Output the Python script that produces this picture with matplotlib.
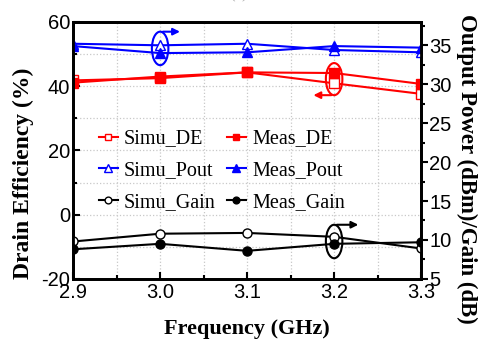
import numpy as np
import matplotlib.pyplot as plt
from matplotlib.patches import Ellipse

plt.rcParams['axes.unicode_minus'] = False

# frequency points (GHz)
freq = [2.9, 3.0, 3.1, 3.2, 3.3]

# drain efficiency (%) - left axis
simu_de = [41.8, 42.5, 44.3, 40.9, 37.6]
meas_de = [41.1, 43.0, 44.3, 44.1, 40.7]

# output power (dBm) - right axis
simu_pout = [35.2, 35.0, 35.2, 34.4, 34.1]
meas_pout = [34.9, 34.0, 34.1, 34.9, 34.7]

# gain (dB) - right axis
simu_gain = [9.8, 10.8, 10.9, 10.4, 8.9]
meas_gain = [8.8, 9.5, 8.6, 9.5, 9.7]

serif = 'Liberation Serif'
sans = 'Liberation Sans'

fig = plt.figure(figsize=(4.78, 3.43), dpi=100)
ax = fig.add_axes([0.153, 0.187, 0.728, 0.749])
ax2 = ax.twinx()

lw = 1.5
ms = 6.5
l1, = ax.plot(freq, simu_de, color='red', marker='s', mfc='white', mec='red', lw=lw, ms=ms, label='Simu_DE')
l2, = ax.plot(freq, meas_de, color='red', marker='s', mfc='red', mec='red', lw=lw, ms=ms, label='Meas_DE')
l3, = ax2.plot(freq, simu_pout, color='blue', marker='^', mfc='white', mec='blue', lw=lw, ms=ms + 1, label='Simu_Pout')
l4, = ax2.plot(freq, meas_pout, color='blue', marker='^', mfc='blue', mec='blue', lw=lw, ms=ms + 1, label='Meas_Pout')
l5, = ax2.plot(freq, simu_gain, color='black', marker='o', mfc='white', mec='black', lw=lw, ms=ms, label='Simu_Gain')
l6, = ax2.plot(freq, meas_gain, color='black', marker='o', mfc='black', mec='black', lw=lw, ms=ms, label='Meas_Gain')

for a in (ax, ax2):
    for s in a.spines.values():
        s.set_linewidth(2)

ax.set_xlim(2.9, 3.3)
ax.set_ylim(-20, 60)
ax2.set_ylim(5, 38)
ax.set_xticks([2.9, 3.0, 3.1, 3.2, 3.3])
ax.set_xticklabels(['2.9', '3.0', '3.1', '3.2', '3.3'])
ax.set_xticks(np.arange(2.95, 3.3, 0.1), minor=True)
ax.set_yticks([-20, 0, 20, 40, 60])
ax.set_yticks([-10, 10, 30, 50], minor=True)
ax2.set_yticks([5, 10, 15, 20, 25, 30, 35])
ax2.set_yticks(np.arange(7.5, 38, 5), minor=True)

ax.grid(True, which='both', color='#c8c8c8', linestyle=':', linewidth=0.9)
ax.set_axisbelow(True)

ax.tick_params(which='both', direction='in', width=1.5, labelsize=14.5, top=False)
ax.tick_params(which='major', length=5)
ax.tick_params(which='minor', length=3)
ax2.tick_params(which='both', direction='out', width=1.5, labelsize=14.5)
ax2.tick_params(which='major', length=5)
ax2.tick_params(which='minor', length=3)
for lab in ax.get_xticklabels() + ax.get_yticklabels() + ax2.get_yticklabels():
    lab.set_fontfamily(sans)
ax.tick_params(axis='x', pad=3)
ax.tick_params(axis='y', pad=2)
ax2.tick_params(axis='y', pad=1)

ax.set_xlabel('Frequency (GHz)', fontfamily=serif, fontweight='bold', fontsize=16, labelpad=12)
ax.set_ylabel('Drain Efficiency (%)', fontfamily=serif, fontweight='bold', fontsize=17, va='center')
ax.yaxis.set_label_coords(-0.144, 0.41)
ax2.set_ylabel('Output Power (dBm)/Gain (dB)', fontfamily=serif, fontweight='bold', fontsize=16.5,
               rotation=270, va='center')
ax2.yaxis.set_label_coords(1.132, 0.428)

# column-wise fill -> row order Simu/Meas pairs
leg = ax.legend(handles=[l1, l3, l5, l2, l4, l6], ncol=2, frameon=False,
                loc='upper left', bbox_to_anchor=(0.022, 0.652),
                prop={'family': serif, 'size': 14.5}, handlelength=0.95,
                handletextpad=0.3, columnspacing=0.55, labelspacing=0.62,
                markerscale=0.75)

# ellipse markers with arrows
ax2.add_patch(Ellipse((3.0, 34.6), 0.019, 4.3, fill=False, ec='blue', lw=1.5, clip_on=False, zorder=5))
ax2.annotate('', xy=(3.026, 36.75), xytext=(3.0, 36.75), annotation_clip=False,
             arrowprops=dict(arrowstyle='-|>', color='blue', lw=1.5, mutation_scale=10))
ax.add_patch(Ellipse((3.2, 42.2), 0.019, 10.0, fill=False, ec='red', lw=1.5, clip_on=False, zorder=5))
ax.annotate('', xy=(3.173, 37.2), xytext=(3.2, 37.2), annotation_clip=False,
            arrowprops=dict(arrowstyle='-|>', color='red', lw=1.5, mutation_scale=10))
ax2.add_patch(Ellipse((3.2, 9.8), 0.019, 4.3, fill=False, ec='black', lw=1.5, clip_on=False, zorder=5))
ax2.annotate('', xy=(3.231, 11.95), xytext=(3.2, 11.95), annotation_clip=False,
             arrowprops=dict(arrowstyle='-|>', color='black', lw=1.5, mutation_scale=10))

# figure caption, mostly cut off at the top edge like in the source
fig.text(0.5, 1.004, '(a)', ha='center', va='baseline', fontfamily=serif, fontsize=12, color='#aaaaaa')

fig.savefig('out.png', dpi=100)
